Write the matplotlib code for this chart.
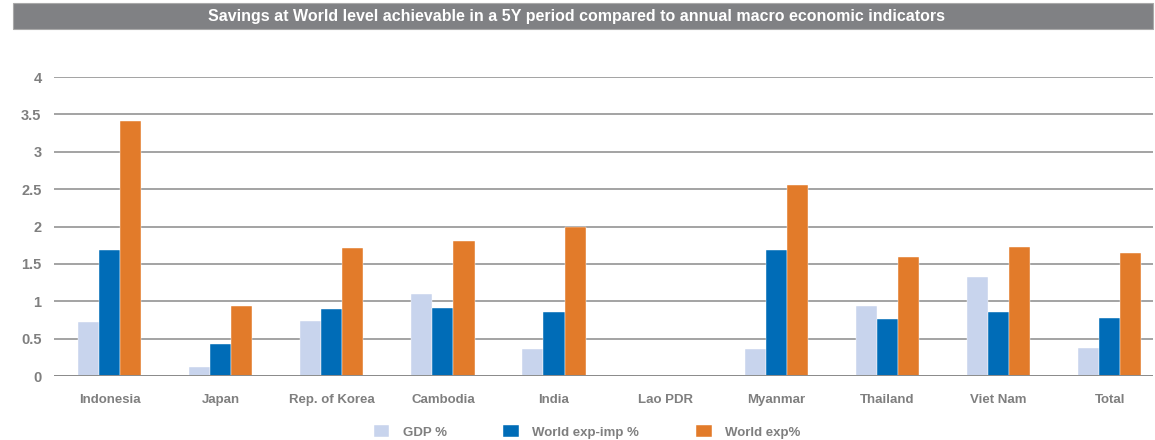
import numpy as np
import matplotlib
matplotlib.use('Agg')
import matplotlib.pyplot as plt
from matplotlib.patches import Rectangle

countries = ['Indonesia', 'Japan', 'Rep. of Korea', 'Cambodia', 'India',
             'Lao PDR', 'Myanmar', 'Thailand', 'Viet Nam', 'Total']
gdp_pct = [0.72, 0.12, 0.74, 1.10, 0.36, 0.0, 0.36, 0.94, 1.33, 0.375]
world_exp_imp_pct = [1.69, 0.43, 0.89, 0.91, 0.85, 0.0, 1.69, 0.76, 0.86, 0.77]
world_exp_pct = [3.41, 0.93, 1.71, 1.81, 2.0, 0.0, 2.55, 1.59, 1.72, 1.64]
series_labels = ['GDP %', 'World exp-imp %', 'World exp%']
y_ticks = [0, 0.5, 1, 1.5, 2, 2.5, 3, 3.5, 4]
y_tick_labels = ['0', '0.5', '1', '1.5', '2', '2.5', '3', '3.5', '4']
title = 'Savings at World level achievable in a 5Y period compared to annual macro economic indicators'

colors = ['#c8d4ed', '#006cb7', '#e27b2a']
text_grey = '#7f7f7f'

plt.rcParams['font.family'] = ['Liberation Sans', 'DejaVu Sans']

fig = plt.figure(figsize=(11.55, 4.4), dpi=100)
ax = fig.add_axes([54 / 1155, 64 / 440, (1153 - 54) / 1155, (376 - 77) / 440])

x = np.arange(len(countries))
w = 0.19
for i, (vals, c, lab) in enumerate(zip([gdp_pct, world_exp_imp_pct, world_exp_pct], colors, series_labels)):
    ax.bar(x + (i - 1) * w, vals, width=w, color=c, label=lab, zorder=3,
           edgecolor='white', linewidth=0.3)

ax.set_ylim(0, 4)
ax.set_xlim(-0.5, 9.39)
ax.set_yticks(y_ticks)
ax.set_yticklabels(y_tick_labels)
ax.set_xticks(x)
ax.set_xticklabels(countries)
ax.yaxis.grid(True, color='#a3a3a3', linewidth=1.4, zorder=0)
ax.set_axisbelow(True)
for s in ['top', 'right', 'left', 'bottom']:
    ax.spines[s].set_visible(False)
ax.axhline(0, color='#8c8c8c', linewidth=1.4, zorder=4)
ax.tick_params(axis='both', length=0, labelcolor=text_grey)
ax.tick_params(axis='x', pad=13, labelsize=9.5)
ax.tick_params(axis='y', pad=9, labelsize=10.5)
for t in ax.get_xticklabels() + ax.get_yticklabels():
    t.set_fontweight('bold')

# title bar
fig.patches.append(Rectangle((13 / 1155, 1 - 29 / 440), (1153 - 13) / 1155, 26 / 440,
                             transform=fig.transFigure, facecolor='#808184',
                             edgecolor='#a9a9a9', linewidth=0.8))
fig.text(577 / 1155, 1 - 16 / 440, title, ha='center', va='center', color='white',
         fontsize=11.5, fontweight='bold',
         family=['Liberation Sans Narrow', 'Liberation Sans', 'DejaVu Sans'])

leg = fig.legend(loc='center', bbox_to_anchor=(587 / 1155, 1 - 432 / 440), ncol=3,
                 frameon=False, fontsize=9.5, handlelength=1.2, handleheight=1.0,
                 handletextpad=1.0, columnspacing=4.3)
for t in leg.get_texts():
    t.set_color(text_grey)
    t.set_fontweight('bold')

fig.savefig('out.png', dpi=100)
